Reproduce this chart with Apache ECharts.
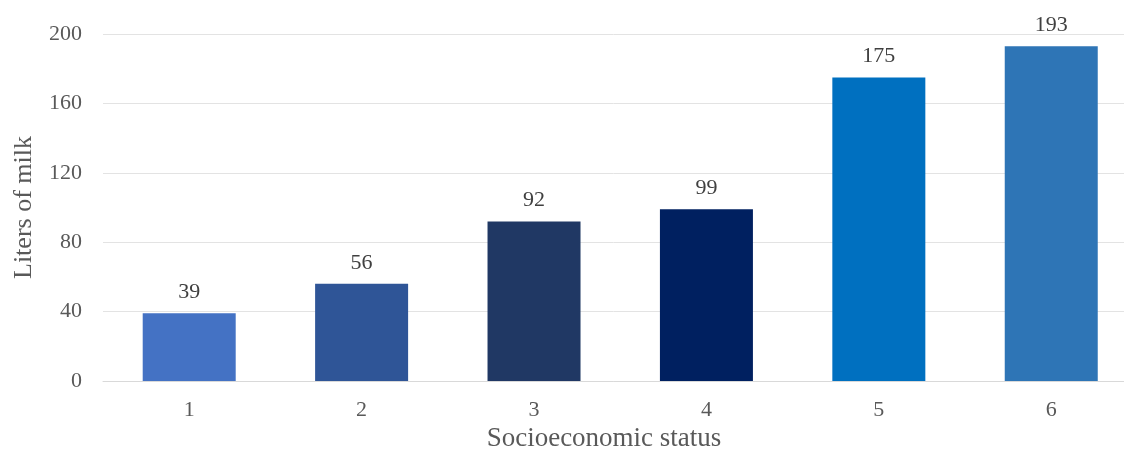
<!DOCTYPE html>
<html><head><meta charset="utf-8">
<script src="https://cdn.jsdelivr.net/npm/echarts@6/dist/echarts.min.js"></script>
<style>html,body{margin:0;padding:0;background:#fff}#c{width:1124px;height:453px}</style>
</head><body><div id="c"></div>
<script>
const categories = [1, 2, 3, 4, 5, 6];
const values = [39, 56, 92, 99, 175, 193];
const barColors = ['#4472C4', '#2F5597', '#203864', '#002060', '#0070C0', '#2E75B6'];
const yTicks = [0, 40, 80, 120, 160, 200];
const yTitle = 'Liters of milk';
const xTitle = 'Socioeconomic status';

const font = '"Liberation Serif", "Times New Roman", serif';
const chart = echarts.init(document.getElementById('c'), null, {renderer: 'canvas'});
chart.setOption({
  animation: false,
  title: {
    text: xTitle, left: 599, top: 420, textAlign: 'center',
    textStyle: {fontFamily: font, fontSize: 27, fontWeight: 'normal', color: '#595959'}
  },
  grid: {left: 103, top: 34, bottom: 72, right: 0, containLabel: false},
  xAxis: {
    type: 'value', min: 0.5, max: 6.422,
    axisLine: {show: true, onZero: false, lineStyle: {color: '#d9d9d9', width: 1}},
    axisTick: {show: false},
    splitLine: {show: false},
    axisLabel: {customValues: categories, fontFamily: font, fontSize: 22, color: '#595959', margin: 18}
  },
  yAxis: {
    type: 'value', min: yTicks[0], max: yTicks[yTicks.length - 1], interval: 40,
    name: yTitle, nameLocation: 'middle', nameRotate: 90, nameGap: 66,
    nameTextStyle: {fontFamily: font, fontSize: 26, color: '#595959'},
    axisLine: {show: false}, axisTick: {show: false},
    axisLabel: {fontFamily: font, fontSize: 22, color: '#595959', margin: 21},
    splitLine: {lineStyle: {color: '#e3e3e3', width: 1}}
  },
  series: [{
    type: 'bar',
    data: values.map((v, i) => ({value: [categories[i], v], itemStyle: {color: barColors[i]}})),
    barWidth: 93,
    label: {show: true, position: 'top', distance: 10, fontFamily: font, fontSize: 22, color: '#404040',
      formatter: p => p.value[1]}
  }]
});
</script></body></html>
